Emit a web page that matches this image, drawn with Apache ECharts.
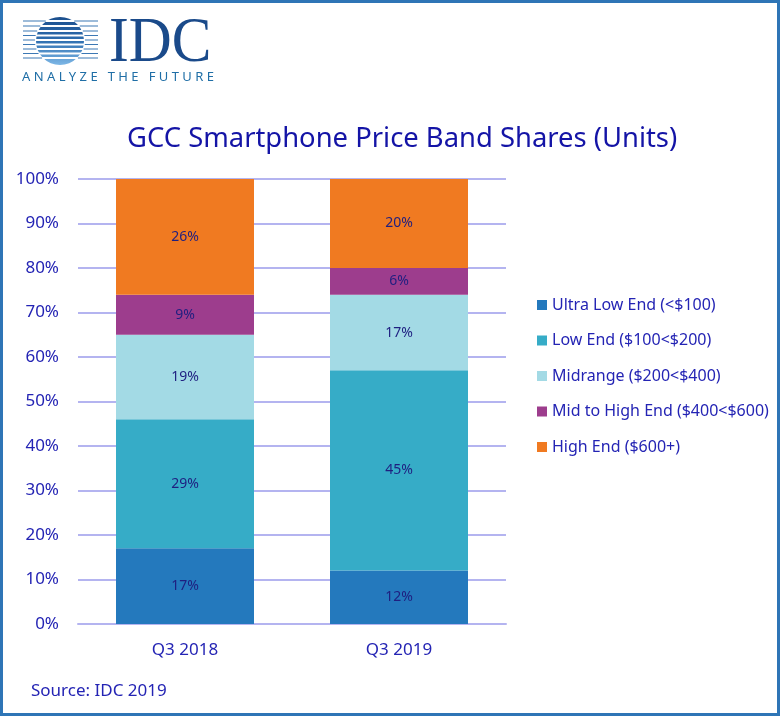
<!DOCTYPE html>
<html>
<head>
<meta charset="utf-8">
<script src="https://cdn.jsdelivr.net/npm/echarts@6/dist/echarts.min.js"></script>
<style>
html,body{margin:0;padding:0;background:#fff;}
#chart{width:781px;height:716px;}
</style>
</head>
<body>
<div id="chart"></div>
<script>
const categories = ['Q3 2018', 'Q3 2019'];
const seriesNames = ['Ultra Low End (<$100)', 'Low End ($100<$200)', 'Midrange ($200<$400)', 'Mid to High End ($400<$600)', 'High End ($600+)'];
const ultraLow = [17, 12];
const lowEnd = [29, 45];
const midrange = [19, 17];
const midHigh = [9, 6];
const highEnd = [26, 20];
const yTicks = [0, 10, 20, 30, 40, 50, 60, 70, 80, 90, 100];
const colors = ['#2479BD', '#36ACC7', '#A3DAE5', '#9D3D8D', '#F07A21'];

const FONT = '"Noto Sans", "Open Sans", sans-serif';
const seriesData = [ultraLow, lowEnd, midrange, midHigh, highEnd];

// logo decorations
const logo = [];
const cx = 60, cy = 41, r = 24;
const stripeYs = [21, 26, 31, 35.5, 40, 44.5, 49, 53.5, 58];
stripeYs.forEach(y => {
  logo.push({type:'rect', shape:{x:23, y:y-0.6, width:75, height:1.2}, style:{fill:'#3C78B4'}, z:10});
});
logo.push({type:'circle', shape:{cx:cx, cy:cy, r:r}, style:{fill:{type:'linear', x:0, y:0, x2:0, y2:1, colorStops:[{offset:0, color:'#1B4E8C'},{offset:0.5,color:'#2F6FB0'},{offset:1, color:'#7DB7E6'}]}}, z:11});
stripeYs.forEach(y => {
  const dy = y - cy;
  if (Math.abs(dy) < r) {
    const hw = Math.sqrt(r*r - dy*dy);
    logo.push({type:'rect', shape:{x:cx-hw-1, y:y-1, width:2*hw+2, height:2}, style:{fill:'#ffffff'}, z:12});
  }
});
logo.push({type:'text', x:109, y:12, scaleX:0.93, style:{text:'IDC', font:'64px "Liberation Serif", "DejaVu Serif", serif', fill:'#1A4A8A', textVerticalAlign:'top'}, z:12});
logo.push({type:'text', x:22, y:71, style:{text:'A N A L Y Z E   T H E   F U T U R E', font:'13px "Noto Sans", sans-serif', fill:'#1F6EA6', textVerticalAlign:'top'}, z:12});

const chart = echarts.init(document.getElementById('chart'), null, {renderer:'canvas'});
chart.setOption({
  backgroundColor:'#ffffff',
  animation:false,
  title:{
    text:'GCC Smartphone Price Band Shares (Units)',
    left:122, top:121,
    textStyle:{fontFamily:FONT, fontSize:27.4, fontWeight:'normal', color:'#1414A6'}
  },
  graphic:[
    {type:'rect', shape:{x:1.5, y:1.5, width:777, height:713}, style:{fill:'none', stroke:'#2E75B6', lineWidth:3}, z:100},
    {type:'text', x:31, y:683, style:{text:'Source: IDC 2019', font:'17px ' + FONT, fill:'#2424B4'}, z:10}
  ].concat(logo),
  legend:{
    orient:'vertical', left:532, top:290,
    itemWidth:10, itemHeight:10, itemGap:15.5,
    icon:'rect',
    data:seriesNames,
    textStyle:{fontFamily:FONT, fontSize:16, color:'#2424B4', lineHeight:20}
  },
  grid:{left:78, right:275, top:179, bottom:92, containLabel:false},
  xAxis:{
    type:'category', data:categories,
    axisLine:{show:true, lineStyle:{color:'#B4B4F0', width:2}},
    axisTick:{show:false},
    axisLabel:{fontFamily:FONT, fontSize:17, color:'#2424B4', margin:18}
  },
  yAxis:{
    type:'value', min:0, max:100, interval:10,
    axisLine:{show:false}, axisTick:{show:false},
    splitLine:{lineStyle:{color:'#B4B4F0', width:2}},
    axisLabel:{fontFamily:FONT, fontSize:17, color:'#2424B4', margin:19, formatter: v => yTicks.includes(v) ? v + '%' : ''}
  },
  series: seriesNames.map((name, i) => ({
    name: name, type:'bar', stack:'total', barWidth:138,
    data: seriesData[i],
    itemStyle:{color:colors[i]},
    label:{show:true, position:'inside', formatter:'{c}%', fontFamily:FONT, fontSize:14, color:'#1F1F80'}
  }))
});
</script>
</body>
</html>
